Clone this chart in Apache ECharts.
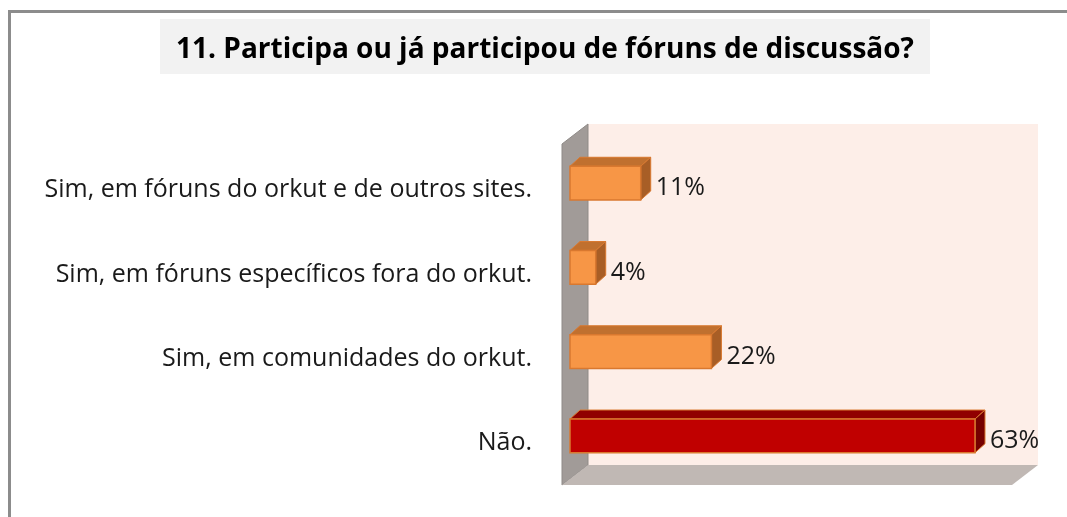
<!DOCTYPE html>
<html>
<head>
<meta charset="utf-8">
<script src="https://cdn.jsdelivr.net/npm/echarts@6/dist/echarts.min.js"></script>
<style>
    html, body {margin: 0; padding: 0; background: #fff;}
    #chart {width: 1067px; height: 517px;}
</style>
</head>
<body>
<div id="chart"></div>
<script>
var titleText = '11. Participa ou já participou de fóruns de discussão?';
var categories = [
    'Sim, em fóruns do orkut e de outros sites.',
    'Sim, em fóruns específicos fora do orkut.',
    'Sim, em comunidades do orkut.',
    'Não.'
];
var values = [11, 4, 22, 63];

var FONT = '"Open Sans", sans-serif';

// cores das faces: frente, topo, lateral, borda
var orange = ['#f79646', '#c0702f', '#a85e26', '#d9782f'];
var red = ['#c00000', '#900000', '#760000', '#d9782f'];

function renderFrame(params, api) {
    var cs = params.coordSys;
    // plano do fundo e plano da frente (profundidade 26, -20)
    var bx0 = cs.x + 18, bx1 = cs.x + cs.width + 18;
    var by0 = cs.y - 17, by1 = cs.y + cs.height - 13;
    var fx0 = bx0 - 26, fx1 = bx1 - 26, fy0 = by0 + 20, fy1 = by1 + 20;
    return {
        type: 'group',
        children: [
            {
                type: 'rect',
                shape: {x: bx0, y: by0, width: bx1 - bx0, height: by1 - by0},
                style: {fill: '#fdeee8'}
            },
            {
                type: 'polygon',
                shape: {points: [[bx0, by0], [bx0, by1], [fx0, fy1], [fx0, fy0]]},
                style: {fill: '#a19b98', stroke: '#8f8a87', lineWidth: 1}
            },
            {
                type: 'polygon',
                shape: {points: [[bx0, by1], [bx1, by1], [fx1, fy1], [fx0, fy1]]},
                style: {fill: '#c0b8b4'}
            }
        ]
    };
}

function renderBar(params, api) {
    var idx = api.value(1);
    var end = api.coord([api.value(0), idx]);
    var start = api.coord([0, idx]);
    var h = api.size([0, 1])[1] * 0.4;
    var d = 10, dy = 9;
    var x0 = start[0], x1 = end[0];
    var yt = end[1] - h / 2, yb = end[1] + h / 2;
    var c = idx === values.length - 1 ? red : orange;
    return {
        type: 'group',
        children: [
            {
                type: 'polygon',
                shape: {points: [[x0, yt], [x1, yt], [x1 + d, yt - dy], [x0 + d, yt - dy]]},
                style: {fill: c[1], stroke: c[3], lineWidth: 1}
            },
            {
                type: 'polygon',
                shape: {points: [[x1, yt], [x1 + d, yt - dy], [x1 + d, yb - dy], [x1, yb]]},
                style: {fill: c[2], stroke: c[3], lineWidth: 1}
            },
            {
                type: 'rect',
                shape: {x: x0, y: yt, width: x1 - x0, height: h},
                style: {fill: c[0], stroke: c[3], lineWidth: 1.5}
            },
            {
                type: 'text',
                x: x1 + d + 5,
                y: end[1] + 5,
                style: {
                    text: api.value(0) + '%',
                    fill: '#1a1a1a',
                    font: '25px ' + FONT,
                    verticalAlign: 'middle'
                }
            }
        ]
    };
}

var chart = echarts.init(document.getElementById('chart'));
var option = {
    backgroundColor: '#fff',
    animation: false,
    graphic: [
        {
            type: 'polyline',
            shape: {points: [[9.5, 517], [9.5, 11.5], [1067, 11.5]]},
            style: {stroke: '#8c8c8c', lineWidth: 3, fill: null}
        },
        {
            type: 'rect',
            shape: {x: 160, y: 19, width: 770, height: 55},
            style: {fill: '#f2f2f2'}
        },
        {
            type: 'text',
            x: 545,
            y: 50,
            style: {
                text: titleText,
                fill: '#000',
                font: 'bold 28px ' + FONT,
                align: 'center',
                verticalAlign: 'middle'
            }
        }
    ],
    grid: {left: 570, top: 141, width: 450, height: 337},
    xAxis: {
        type: 'value',
        min: 0,
        max: 70,
        show: false
    },
    yAxis: {
        type: 'category',
        data: categories,
        inverse: true,
        axisLine: {show: false},
        axisTick: {show: false},
        axisLabel: {
            margin: 38,
            fontSize: 25,
            fontFamily: FONT,
            color: '#1a1a1a',
            verticalAlign: 'top',
            lineHeight: 14
        }
    },
    series: [
        {
            type: 'custom',
            renderItem: renderFrame,
            data: [[0, 0]],
            z: 1,
            silent: true
        },
        {
            type: 'custom',
            renderItem: renderBar,
            data: values.map(function(v, i) {
                return [v, i];
            }),
            encode: {x: 0, y: 1},
            z: 2
        }
    ]
};
chart.setOption(option);
</script>
</body>
</html>
